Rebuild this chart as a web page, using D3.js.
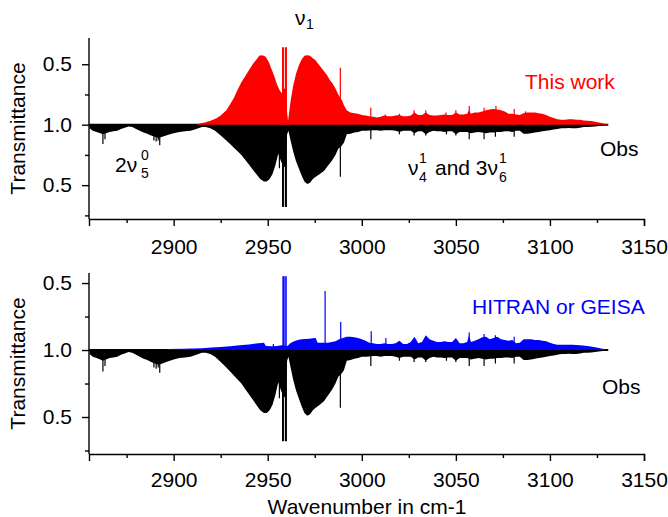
<!DOCTYPE html>
<html>
<head>
<meta charset="utf-8">
<script src="https://cdn.jsdelivr.net/npm/d3@7"></script>
<style>
  body { margin: 0; background: #fff; }
  svg { display: block; font-family: "Liberation Sans", Arial, sans-serif; }
  .axis text { font-size: 21px; fill: #000; }
  .axis path, .axis line { stroke: #000; stroke-width: 1.4px; }
</style>
</head>
<body>
<svg id="chart" width="668" height="517"></svg>
<script>
// wavenumber (cm-1), absorption depth (1 - transmittance)
const thisWork = [
  [2912, 0], [2914, 0.01], [2917, 0.02], [2920, 0.035], [2923, 0.055], [2925, 0.075],
  [2928, 0.12], [2930, 0.17], [2932, 0.22], [2934, 0.29], [2936, 0.35], [2938, 0.4],
  [2940, 0.45], [2942, 0.5], [2944, 0.54], [2945.5, 0.57], [2946.5, 0.575], [2948, 0.57],
  [2949, 0.56], [2950.5, 0.52], [2952, 0.46], [2953.5, 0.4], [2955, 0.33], [2956.5, 0.28],
  [2957.5, 0.26], [2958.5, 0.3], [2959.2, 0.3], [2960.3, 0.1], [2960.8, 0.03], [2961.5, 0.12],
  [2962.2, 0.2], [2963.5, 0.32], [2965, 0.42], [2966.5, 0.49], [2968, 0.54], [2969.5, 0.57],
  [2971, 0.575], [2972.5, 0.57], [2974, 0.55], [2975.5, 0.53], [2977, 0.5], [2978.5, 0.47],
  [2980, 0.44], [2981.5, 0.41], [2983, 0.37], [2984.5, 0.34], [2986, 0.3], [2987.5, 0.25],
  [2989.5, 0.2], [2990.5, 0.16], [2992, 0.12], [2994, 0.1], [2996, 0.095], [2998, 0.09],
  [3000, 0.08], [3002, 0.075], [3004, 0.07], [3006, 0.065], [3008, 0.06], [3010, 0.065],
  [3012, 0.075], [3014, 0.07], [3016, 0.07], [3018, 0.075], [3020, 0.08], [3022, 0.07],
  [3024, 0.07], [3026, 0.075], [3028, 0.1], [3030, 0.08], [3032, 0.08], [3034, 0.1],
  [3036, 0.08], [3038, 0.075], [3040, 0.075], [3042, 0.08], [3044, 0.085], [3046, 0.08],
  [3048, 0.08], [3050, 0.1], [3052, 0.085], [3054, 0.085], [3056, 0.09], [3057, 0.12],
  [3058, 0.09], [3060, 0.1], [3062, 0.1], [3064, 0.11], [3066, 0.12], [3068, 0.125],
  [3070, 0.13], [3072, 0.125], [3074, 0.12], [3076, 0.11], [3078, 0.09], [3080, 0.09],
  [3082, 0.085], [3084, 0.08], [3086, 0.095], [3088, 0.1], [3090, 0.1], [3092, 0.1],
  [3094, 0.095], [3096, 0.09], [3098, 0.08], [3100, 0.065], [3102, 0.055], [3104, 0.045],
  [3106, 0.04], [3108, 0.04], [3110, 0.045], [3112, 0.045], [3114, 0.04], [3116, 0.04],
  [3118, 0.035], [3120, 0.032], [3122, 0.03], [3124, 0.025], [3126, 0.018], [3128, 0.012],
  [3130, 0.005], [3131, 0]
]
const thisWorkLines = [
  [2957.9, 0.64], [2958.3, 0.64], [2959.4, 0.64], [2959.9, 0.64], [2988.6, 0.47],
  [3004.8, 0.14], [3012.5, 0.085], [3020, 0.09], [3027.8, 0.12], [3034, 0.12],
  [3044.7, 0.1], [3050, 0.12], [3057.1, 0.155], [3065, 0.14], [3071.3, 0.155],
  [3081, 0.13], [3087, 0.11]
]

const obs = [
  [2855.3, 0.03], [2857, 0.05], [2859, 0.06], [2861, 0.07], [2862.4, 0.08], [2864, 0.07],
  [2866, 0.06], [2868, 0.055], [2870, 0.05], [2872, 0.035], [2874, 0.025], [2876, 0.015],
  [2878, 0.02], [2880, 0.035], [2882, 0.05], [2884, 0.065], [2886, 0.075], [2888, 0.09],
  [2890, 0.1], [2892, 0.11], [2894, 0.1], [2896, 0.09], [2898, 0.08], [2900, 0.07],
  [2903, 0.06], [2906, 0.055], [2909, 0.05], [2912, 0.035], [2915, 0.02], [2917, 0.02],
  [2919.5, 0.03], [2922, 0.05], [2925, 0.09], [2928, 0.13], [2930, 0.16], [2932, 0.19],
  [2934, 0.22], [2936, 0.25], [2938, 0.29], [2940, 0.33], [2942, 0.37], [2944, 0.41],
  [2946, 0.45], [2948, 0.47], [2949.5, 0.47], [2951, 0.45], [2952.5, 0.41], [2954, 0.34],
  [2955.6, 0.24], [2957, 0.3], [2958.5, 0.35], [2959.2, 0.35], [2960.3, 0.08], [2961, 0.05],
  [2962, 0.12], [2963.5, 0.22], [2965, 0.3], [2966.5, 0.36], [2968, 0.42], [2969.5, 0.47],
  [2971, 0.49], [2972.5, 0.48], [2974, 0.45], [2975.5, 0.43], [2977.5, 0.41], [2980, 0.38],
  [2982, 0.34], [2984, 0.3], [2986, 0.25], [2987.5, 0.2], [2989, 0.18], [2990.5, 0.15],
  [2992, 0.08], [2994, 0.075], [2996, 0.065], [2998, 0.06], [3000, 0.05], [3002, 0.05],
  [3004, 0.048], [3006, 0.045], [3008, 0.045], [3010, 0.05], [3012, 0.045], [3014, 0.045],
  [3016, 0.045], [3018, 0.05], [3020, 0.06], [3022, 0.05], [3024, 0.05], [3026, 0.05],
  [3028, 0.07], [3030, 0.055], [3032, 0.055], [3034, 0.08], [3036, 0.06], [3038, 0.05],
  [3040, 0.055], [3042, 0.055], [3044, 0.06], [3046, 0.055], [3048, 0.055], [3050, 0.08],
  [3052, 0.06], [3054, 0.06], [3056, 0.06], [3058, 0.07], [3060, 0.065], [3062, 0.06],
  [3064, 0.065], [3066, 0.07], [3068, 0.065], [3070, 0.065], [3072, 0.06], [3074, 0.06],
  [3076, 0.055], [3078, 0.055], [3080, 0.06], [3082, 0.05], [3084, 0.05], [3086, 0.075],
  [3088, 0.075], [3090, 0.07], [3092, 0.065], [3094, 0.06], [3096, 0.055], [3098, 0.05],
  [3100, 0.045], [3102, 0.04], [3104, 0.035], [3106, 0.03], [3108, 0.03], [3110, 0.028],
  [3112, 0.03], [3114, 0.03], [3116, 0.025], [3118, 0.02], [3120, 0.02], [3122, 0.018],
  [3124, 0.015], [3126, 0.01], [3128, 0.007], [3130, 0.003], [3131, 0]
]
const obsLines = [
  [2862.4, 0.16], [2863.5, 0.12], [2889.5, 0.13], [2890.7, 0.14], [2891.8, 0.13],
  [2892.6, 0.17], [2957.9, 0.68], [2958.3, 0.68], [2959.4, 0.68], [2959.9, 0.68],
  [2956.2, 0.36], [2988.6, 0.43], [3004.8, 0.12], [3020, 0.08], [3027.8, 0.09],
  [3034, 0.09], [3045, 0.08], [3050, 0.09], [3057.1, 0.12], [3065, 0.12], [3071, 0.1],
  [3081, 0.1]
]

const hitran = [
  [2897, 0.008], [2905, 0.01], [2910, 0.012], [2915, 0.013], [2920, 0.018], [2925, 0.022],
  [2930, 0.028], [2935, 0.035], [2940, 0.042], [2945, 0.05], [2948, 0.055], [2949, 0.03],
  [2952, 0.028], [2955, 0.03], [2957.5, 0.035], [2960.5, 0.03], [2962, 0.05], [2964, 0.065],
  [2966, 0.075], [2968, 0.08], [2970, 0.082], [2972, 0.085], [2974, 0.088], [2975.5, 0.09],
  [2976.5, 0.055], [2979, 0.055], [2982, 0.055], [2984, 0.06], [2986, 0.065], [2988, 0.08],
  [2990, 0.09], [2992, 0.1], [2994, 0.1], [2996, 0.095], [2998, 0.09], [3000, 0.08],
  [3002, 0.07], [3004, 0.055], [3006, 0.05], [3008, 0.045], [3010, 0.045], [3012, 0.05],
  [3014, 0.045], [3016, 0.045], [3018, 0.05], [3020, 0.07], [3022, 0.045], [3024, 0.045],
  [3026, 0.06], [3028, 0.1], [3030, 0.05], [3032, 0.06], [3034, 0.11], [3036, 0.08],
  [3038, 0.07], [3040, 0.06], [3042, 0.06], [3044, 0.065], [3046, 0.06], [3048, 0.06],
  [3050, 0.09], [3052, 0.05], [3054, 0.05], [3056, 0.06], [3057, 0.11], [3058, 0.06],
  [3060, 0.07], [3062, 0.08], [3064, 0.095], [3066, 0.1], [3068, 0.08], [3070, 0.09],
  [3072, 0.1], [3074, 0.08], [3076, 0.075], [3078, 0.07], [3080, 0.075], [3082, 0.05],
  [3084, 0.055], [3086, 0.08], [3088, 0.08], [3090, 0.08], [3092, 0.075], [3094, 0.075],
  [3096, 0.07], [3098, 0.065], [3100, 0.055], [3102, 0.045], [3104, 0.04], [3108, 0.04],
  [3112, 0.04], [3116, 0.035], [3120, 0.03], [3124, 0.02], [3128, 0.01], [3131, 0]
]
const hitranLines = [
  [2953, 0.045], [2958.1, 0.55], [2958.5, 0.55], [2959.2, 0.55], [2959.8, 0.55],
  [2980.5, 0.44], [2988.8, 0.21], [3005, 0.14], [3012.8, 0.09], [3057.1, 0.13],
  [3065, 0.12], [3071, 0.11], [3081, 0.1]
]

const xMajor = [2900, 2950, 3000, 3050, 3100, 3150]
const xMinor = [2875, 2925, 2975, 3025, 3075, 3125]
const yMajor = [0.5, 0, -0.5]
const yMinor = [0.25, -0.25, -0.75]

const svg = d3.select('#chart')
const x = d3.scaleLinear().domain([2855, 3150]).range([89, 644])

const panels = [
  {calc: thisWork, calcLines: thisWorkLines, color: '#ff0000', yDomain: [-0.78, 0.717],
    yRange: [219, 38], pad: 13},
  {calc: hitran, calcLines: hitranLines, color: '#0000ff', yDomain: [-0.776, 0.575],
    yRange: [454, 273], pad: 11}
]

panels.forEach(p => {
  const y = d3.scaleLinear().domain(p.yDomain).range(p.yRange)
  const g = svg.append('g')
  const down = d3.area().x(d => x(d[0])).y0(y(0)).y1(d => y(-d[1]))
  const up = d3.area().x(d => x(d[0])).y0(y(0)).y1(d => y(d[1]))

  // observed spectrum, plotted downwards
  g.append('path').datum(obs).attr('d', down).attr('fill', '#000')
  g.append('g').selectAll('line').data(obsLines).enter().append('line')
    .attr('x1', d => x(d[0])).attr('x2', d => x(d[0]))
    .attr('y1', y(0)).attr('y2', d => y(-d[1]))
    .attr('stroke', '#000').attr('stroke-width', 1.2)

  // baseline at transmittance 1
  g.append('line')
    .attr('x1', x(2855)).attr('x2', x(3131))
    .attr('y1', y(0)).attr('y2', y(0))
    .attr('stroke', '#000').attr('stroke-width', 2)

  // calculated spectrum, plotted upwards
  g.append('path').datum(p.calc).attr('d', up).attr('fill', p.color)
  g.append('g').selectAll('line').data(p.calcLines).enter().append('line')
    .attr('x1', d => x(d[0])).attr('x2', d => x(d[0]))
    .attr('y1', y(0)).attr('y2', d => y(d[1]))
    .attr('stroke', p.color).attr('stroke-width', 1.2)

  const bottom = p.yRange[0]
  g.append('g').attr('class', 'axis').attr('transform', `translate(0,${bottom})`)
    .call(d3.axisBottom(x).tickValues(xMajor).tickSize(7).tickPadding(p.pad).tickFormat(d3.format('d')))
  g.append('g').attr('class', 'axis').attr('transform', `translate(0,${bottom})`)
    .call(d3.axisBottom(x).tickValues(xMinor).tickSize(4).tickFormat(''))
    .call(a => a.select('.domain').remove())

  g.append('g').attr('class', 'axis').attr('transform', 'translate(89,0)')
    .call(d3.axisLeft(y).tickValues(yMajor).tickSize(7).tickPadding(10)
      .tickFormat(d => (1 - Math.abs(d)).toFixed(1)))
    .call(a => a.select('.domain').attr('d', `M0,${p.yRange[1]}V${p.yRange[0]}`))
  g.append('g').attr('class', 'axis').attr('transform', 'translate(89,0)')
    .call(d3.axisLeft(y).tickValues(yMinor).tickSize(4).tickFormat(''))
    .call(a => a.select('.domain').remove())

  g.append('text')
    .attr('transform', `translate(25,${(p.yRange[0] + p.yRange[1]) / 2}) rotate(-90)`)
    .attr('text-anchor', 'middle').attr('font-size', 21)
    .text('Transmittance')
})

svg.append('text').attr('x', 367).attr('y', 514).attr('text-anchor', 'middle')
  .attr('font-size', 21).text('Wavenumber in cm-1')

svg.append('text').attr('x', 525).attr('y', 89).attr('font-size', 21)
  .attr('fill', '#ff0000').text('This work')
svg.append('text').attr('x', 600).attr('y', 156).attr('font-size', 21).text('Obs')
svg.append('text').attr('x', 472).attr('y', 314).attr('font-size', 21)
  .attr('fill', '#0000ff').text('HITRAN or GEISA')
svg.append('text').attr('x', 602).attr('y', 394).attr('font-size', 21).text('Obs')

// band labels: main text, then stacked sub/superscripts as their own texts
function script(xPos, yPos, txt) {
  svg.append('text').attr('x', xPos).attr('y', yPos).attr('font-size', 14).text(txt)
}
svg.append('text').attr('x', 295).attr('y', 25).attr('font-size', 21).text('ν')
script(306, 29, '1')

svg.append('text').attr('x', 115).attr('y', 172).attr('font-size', 21).text('2ν')
script(141, 178, '5')
script(141, 160, '0')

svg.append('text').attr('x', 408).attr('y', 175).attr('font-size', 21).text('ν')
script(419, 163, '1')
script(419, 182, '4')
svg.append('text').attr('x', 435).attr('y', 175).attr('font-size', 21).text('and 3ν')
script(499, 163, '1')
script(499, 182, '6')
</script>
</body>
</html>
